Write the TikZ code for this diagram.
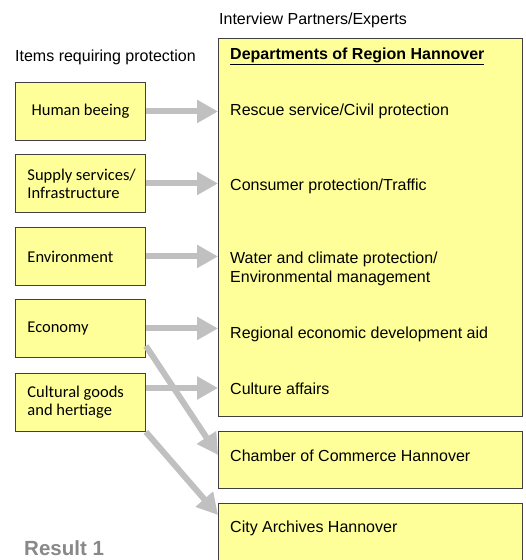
\documentclass[tikz,border=0pt]{standalone}
\usepackage{fontspec}
\setmainfont{Liberation Sans}
\newfontfamily\calib{Carlito}
\usetikzlibrary{arrows.meta,calc}
\definecolor{boxfill}{HTML}{FFFF99}
\definecolor{boxline}{HTML}{404040}
\definecolor{arrowgray}{HTML}{C0C0C0}
\definecolor{resultgray}{HTML}{888888}

\begin{document}
\begin{tikzpicture}[x=1pt,y=-1pt,
    item/.style={draw=boxline, fill=boxfill, line width=0.9pt, minimum width=130pt,
        minimum height=58pt, text width=106pt, inner xsep=12pt, align=flush left,
        anchor=north west, font=\calib\fontsize{16.5}{18}\selectfont},
    partner/.style={draw=boxline, fill=boxfill, line width=0.9pt, minimum width=304pt,
        anchor=north west},
    txt/.style={anchor=base west, inner sep=0pt, font=\fontsize{16}{19}\selectfont},
    conn/.style={draw=arrowgray, line width=6pt, -{Triangle[length=21pt,width=22pt]}}]
    \clip (0,0) rectangle (526,560);
    \fill[white] (0,0) rectangle (526,560);

    % headings
    \node[txt] (hpart) at (219,24) {Interview Partners/Experts};
    \node[txt] (hitem) at (15,61) {Items requiring protection};

    % items requiring protection
    \node[item, align=flush center] (human) at (15,82) {Human beeing};
    \node[item] (supply) at (15,154) {\mbox{Supply services/}\\Infrastructure};
    \node[item] (env) at (15,227) {Environment};
    \node[item] (econ) at (15,299) {Economy};
    \node[item] (cult) at (15,373) {Cultural goods\\and hertiage};

    % interview partners
    \node[partner, minimum height=378pt] (dept) at (218,38) {};
    \node[partner, minimum height=57pt] (chamber) at (218,431) {};
    \node[partner, minimum height=80pt] (city) at (218,503) {};

    \node[txt, font=\bfseries\fontsize{16}{19}\selectfont] (dhead) at (230,59.5) {\underline{Departments of Region Hannover}};
    \node[txt] (rescue) at (230,115) {Rescue service/Civil protection};
    \node[txt] (consumer) at (230,190) {Consumer protection/Traffic};
    \node[txt, align=left] (water) at (230,282.5) {Water and climate protection/\\Environmental management};
    \node[txt] (regio) at (230,338) {Regional economic development aid};
    \node[txt] (culture) at (230,394) {Culture affairs};
    \node[txt] (ihk) at (230,461) {Chamber of Commerce Hannover};
    \node[txt] (archive) at (230,532.5) {City Archives Hannover};

    % connectors
    \draw[conn] (human) -- (human -| dept.west);
    \draw[conn] (supply) -- (supply -| dept.west);
    \draw[conn] (env) -- (env -| dept.west);
    \draw[conn] (econ) -- (econ -| dept.west);
    \coordinate (cultarr) at ($(cult.north east)+(0,15)$);
    \draw[conn] (cultarr) -- (cultarr -| dept.west);
    \draw[conn] ($(econ.south east)+(0,-12)$) -- ($(chamber.west)+(0,-5)$);
    \draw[conn] (cult.south east) -- ($(city.north west)+(0,12)$);

    \node[anchor=base west, inner sep=0pt, text=resultgray, font=\bfseries\fontsize{20.5}{22}\selectfont] (result) at (24,555) {Result 1};
\end{tikzpicture}
\end{document}
